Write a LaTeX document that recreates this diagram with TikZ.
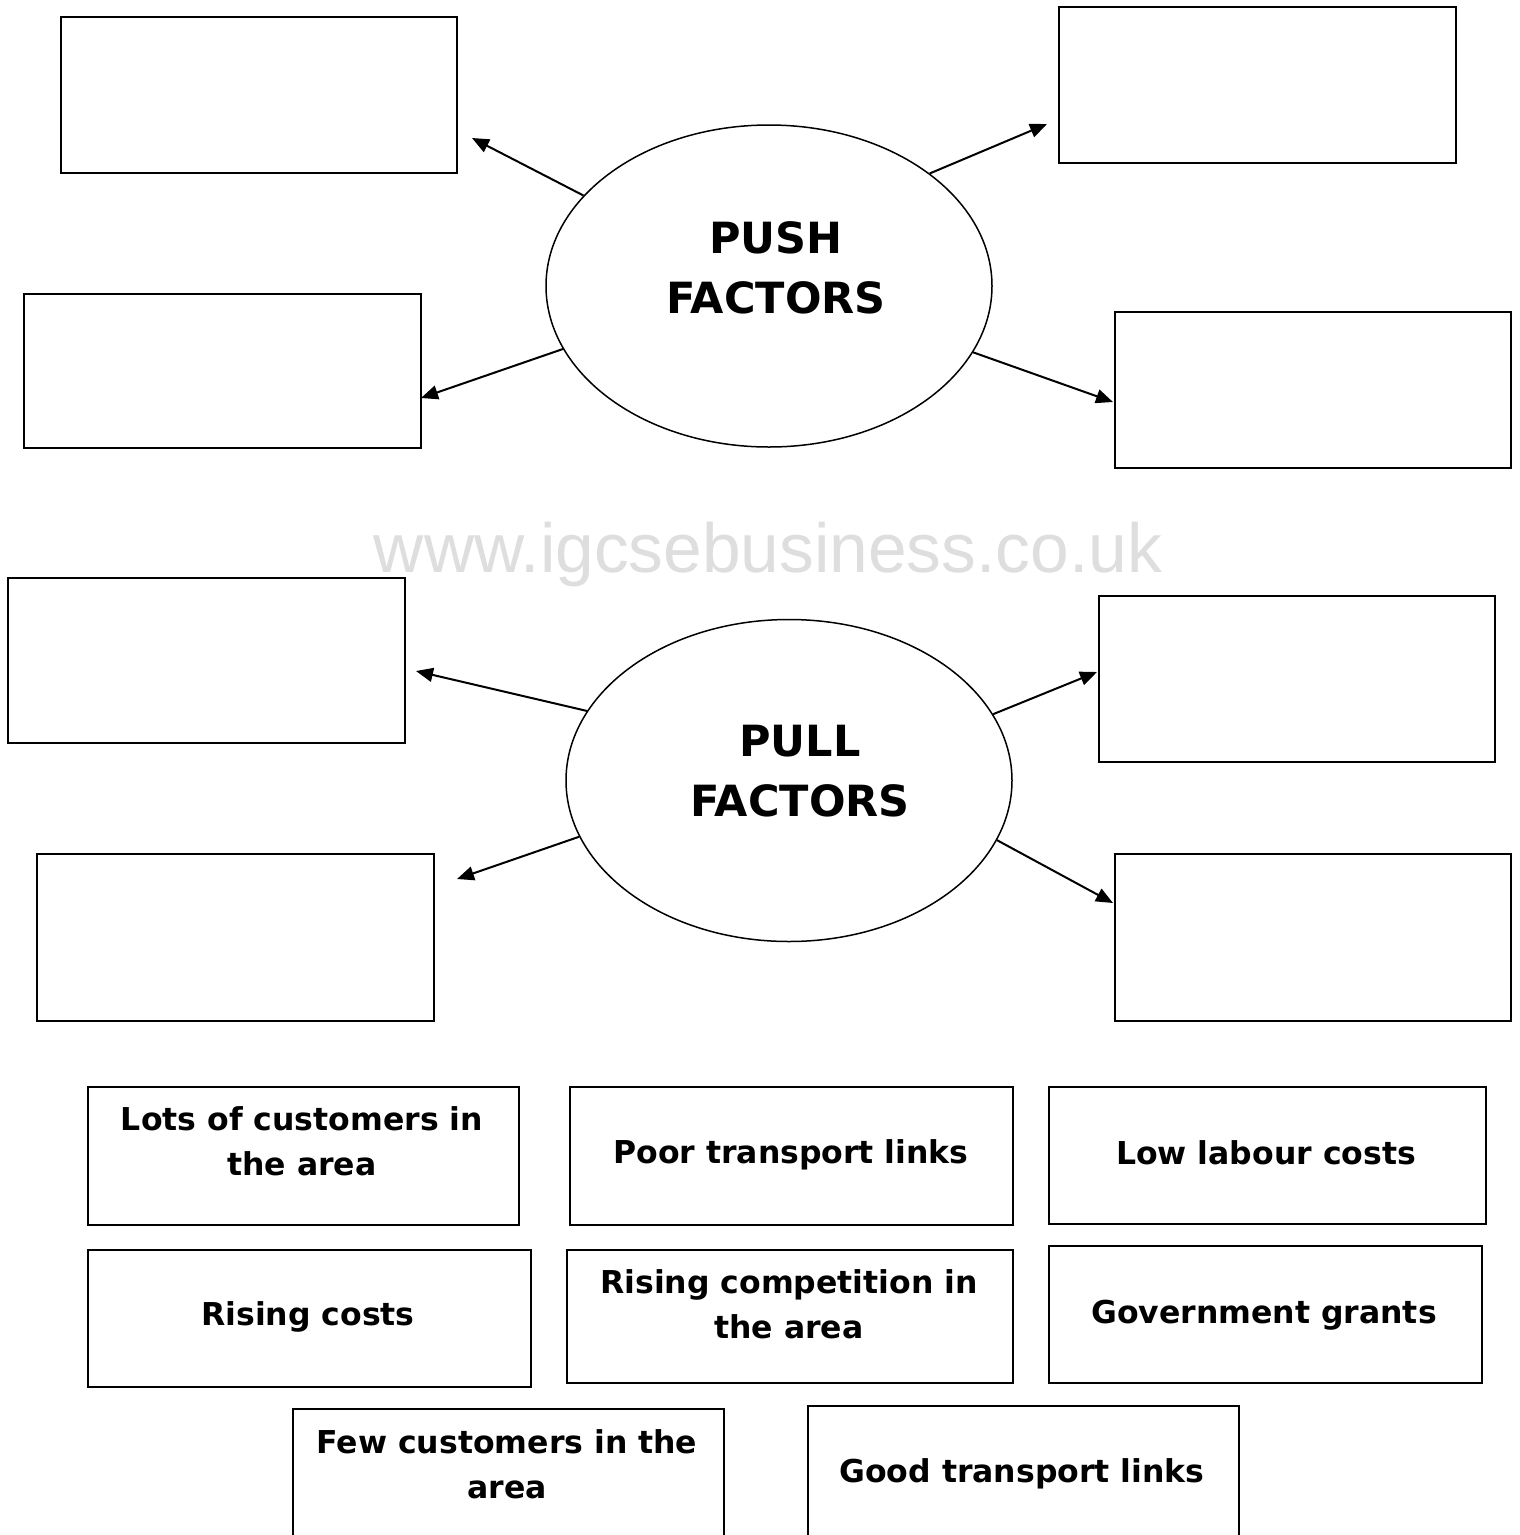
\documentclass[tikz,border=0pt]{standalone}
\usepackage{fontspec}
\setmainfont{DejaVu Sans}
\newfontfamily\wmfont{Liberation Sans}
\usetikzlibrary{arrows.meta,shapes.geometric,positioning}
\definecolor{wmgray}{RGB}{222,222,222}
\tikzset{
	blank/.style={draw,line width=2pt,inner sep=0pt,anchor=north west},
	factor/.style={draw,ellipse,line width=1.5pt,inner sep=0pt,minimum width=446pt,minimum height=322pt},
	factortext/.style={font=\bfseries\fontsize{43}{60}\selectfont,align=center,inner sep=0pt},
	cardtext/.style={font=\bfseries\fontsize{31.5}{45}\selectfont,align=center,inner sep=0pt},
	arr/.style={line width=2pt,-{Triangle[length=17pt,width=14pt]}}
}
\begin{document}
\begin{tikzpicture}[x=1pt,y=-1pt]
	\useasboundingbox (0,0) rectangle (1520,1535);
	\clip (0,0) rectangle (1520,1535);
	\fill[white] (0,0) rectangle (1520,1535);
	\node[wmgray,font=\wmfont\fontsize{69.5}{80}\selectfont,inner sep=0pt] (watermark) at (768,555) {www.igcsebusiness.co.uk};
	\node[blank,minimum width=396pt,minimum height=156pt] (pushTL) at (60,16) {};
	\node[blank,minimum width=397pt,minimum height=156pt] (pushTR) at (1058,6) {};
	\node[blank,minimum width=397pt,minimum height=154pt] (pushML) at (23,293) {};
	\node[blank,minimum width=396pt,minimum height=156pt] (pushMR) at (1114,311) {};
	\node[factor] (push) at (769,286) {};
	\node[factortext] (pushlbl) at (776,268) {PUSH\\FACTORS};
	\coordinate (endTL) at (472,138);
	\coordinate (endTR) at (1047,124);
	\coordinate (endML) at (421,398);
	\coordinate (endMR) at (1113,402);
	\draw[arr] (push.154.7) -- (endTL);
	\draw[arr] (push.35.7) -- (endTR);
	\draw[arr] (push.197.5) -- (endML);
	\draw[arr] (push.342.7) -- (endMR);
	\node[blank,minimum width=397pt,minimum height=165pt] (pullL1) at (7,577) {};
	\node[blank,minimum width=396pt,minimum height=166pt] (pullR1) at (1098,595) {};
	\node[blank,minimum width=397pt,minimum height=167pt] (pullL2) at (36,853) {};
	\node[blank,minimum width=396pt,minimum height=167pt] (pullR2) at (1114,853) {};
	\node[factor] (pull) at (789,780.5) {};
	\node[factortext] (pulllbl) at (800,771) {PULL\\FACTORS};
	\coordinate (endL1) at (416,671);
	\coordinate (endR1) at (1097,672);
	\coordinate (endL2) at (457,879);
	\coordinate (endR2) at (1113,903);
	\draw[arr] (pull.161.6) -- (endL1);
	\draw[arr] (pull.18.6) -- (endR1);
	\draw[arr] (pull.195.3) -- (endL2);
	\draw[arr] (pull.344.2) -- (endR2);
	\node[blank,minimum width=431pt,minimum height=138pt] (lots) at (87,1086) {};
	\node[blank,minimum width=443pt,minimum height=138pt] (poor) at (569,1086) {};
	\node[blank,minimum width=437pt,minimum height=137pt] (labour) at (1048,1086) {};
	\node[blank,minimum width=443pt,minimum height=137pt] (costs) at (87,1249) {};
	\node[blank,minimum width=446pt,minimum height=133pt] (compet) at (566,1249) {};
	\node[blank,minimum width=433pt,minimum height=137pt] (grants) at (1048,1245) {};
	\node[blank,minimum width=431pt,minimum height=150pt] (few) at (292,1408) {};
	\node[blank,minimum width=431pt,minimum height=150pt] (good) at (807,1405) {};
	\node[cardtext] (lotslbl) at (302,1141) {Lots of customers in\\the area};
	\node[cardtext] (poorlbl) at (791,1155) {Poor transport links};
	\node[cardtext] (labourlbl) at (1266,1153) {Low labour costs};
	\node[cardtext] (costslbl) at (308,1317) {Rising costs};
	\node[cardtext] (competlbl) at (789,1304) {Rising competition in\\the area};
	\node[cardtext] (grantslbl) at (1264,1315) {Government grants};
	\node[cardtext] (fewlbl) at (507,1464) {Few customers in the\\area};
	\node[cardtext] (goodlbl) at (1022,1474) {Good transport links};
\end{tikzpicture}
\end{document}
